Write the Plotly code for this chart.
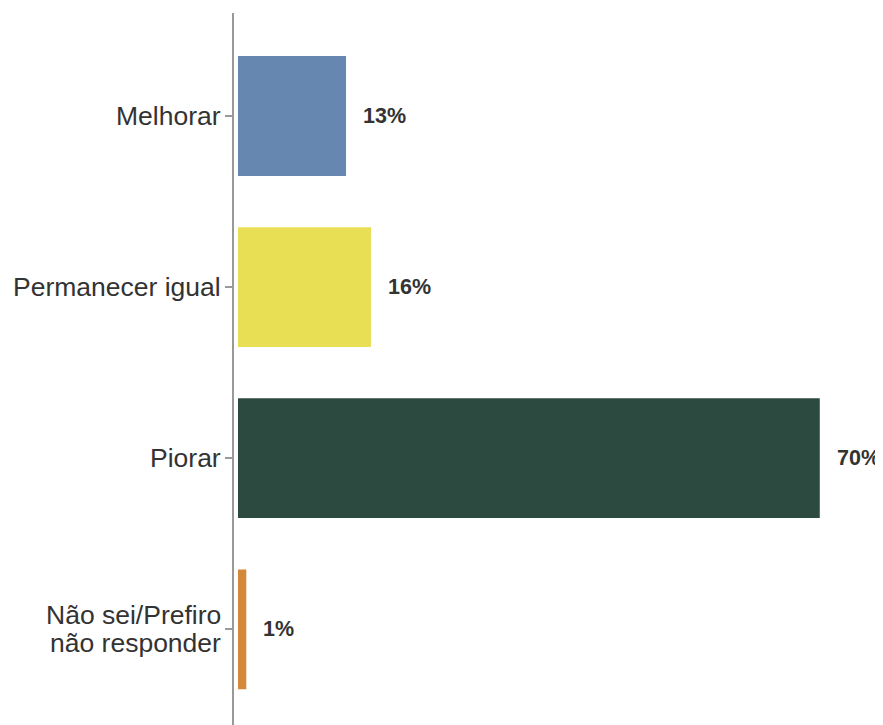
import plotly.graph_objects as go

categories = ["Melhorar", "Permanecer igual", "Piorar", "Não sei/Prefiro\nnão responder"]
values = [13, 16, 70, 1]
labels = ["13%", "16%", "70%", "1%"]
colors = ["#6688B0", "#E9DF55", "#2C4A3F", "#D4893A"]

FONT = "Liberation Sans, Arial, sans-serif"
LINE_H = 27.7

fig = go.Figure()
fig.add_trace(go.Bar(
    x=values, y=categories, orientation="h",
    marker=dict(color=colors, line=dict(width=0)),
    width=0.70, hoverinfo="skip",
))

# value labels
for v, c, lab in zip(values, categories, labels):
    fig.add_annotation(
        x=v, y=c, text="<b>" + lab + "</b>", showarrow=False,
        xanchor="left", yanchor="middle", xshift=15,
        font=dict(family=FONT, size=21.5, color="#333333"),
    )

# category labels (drawn as annotations to control line spacing)
for c in categories:
    lines = c.split("\n")
    n = len(lines)
    for i, ln in enumerate(lines):
        fig.add_annotation(
            x=0, xref="paper", y=c, yref="y", text=ln, showarrow=False,
            xanchor="right", yanchor="middle", xshift=-11,
            yshift=((n - 1) / 2 - i) * LINE_H,
            font=dict(family=FONT, size=26.5, color="#333333"),
        )

fig.update_layout(
    width=883, height=725,
    margin=dict(l=226, r=0, t=5, b=0),
    plot_bgcolor="white", paper_bgcolor="white",
    showlegend=False,
    font=dict(family=FONT, color="#333333"),
)
fig.update_xaxes(
    range=[-0.48, 78.57], visible=False, showgrid=False, zeroline=False,
)
fig.update_yaxes(
    categoryorder="array", categoryarray=categories,
    range=[3.606, -0.602],
    showline=True, linecolor="#999999", linewidth=2,
    ticks="outside", ticklen=7, tickcolor="#999999", tickwidth=2,
    showticklabels=False,
    showgrid=False, zeroline=False,
)

fig.write_html("out.html")
